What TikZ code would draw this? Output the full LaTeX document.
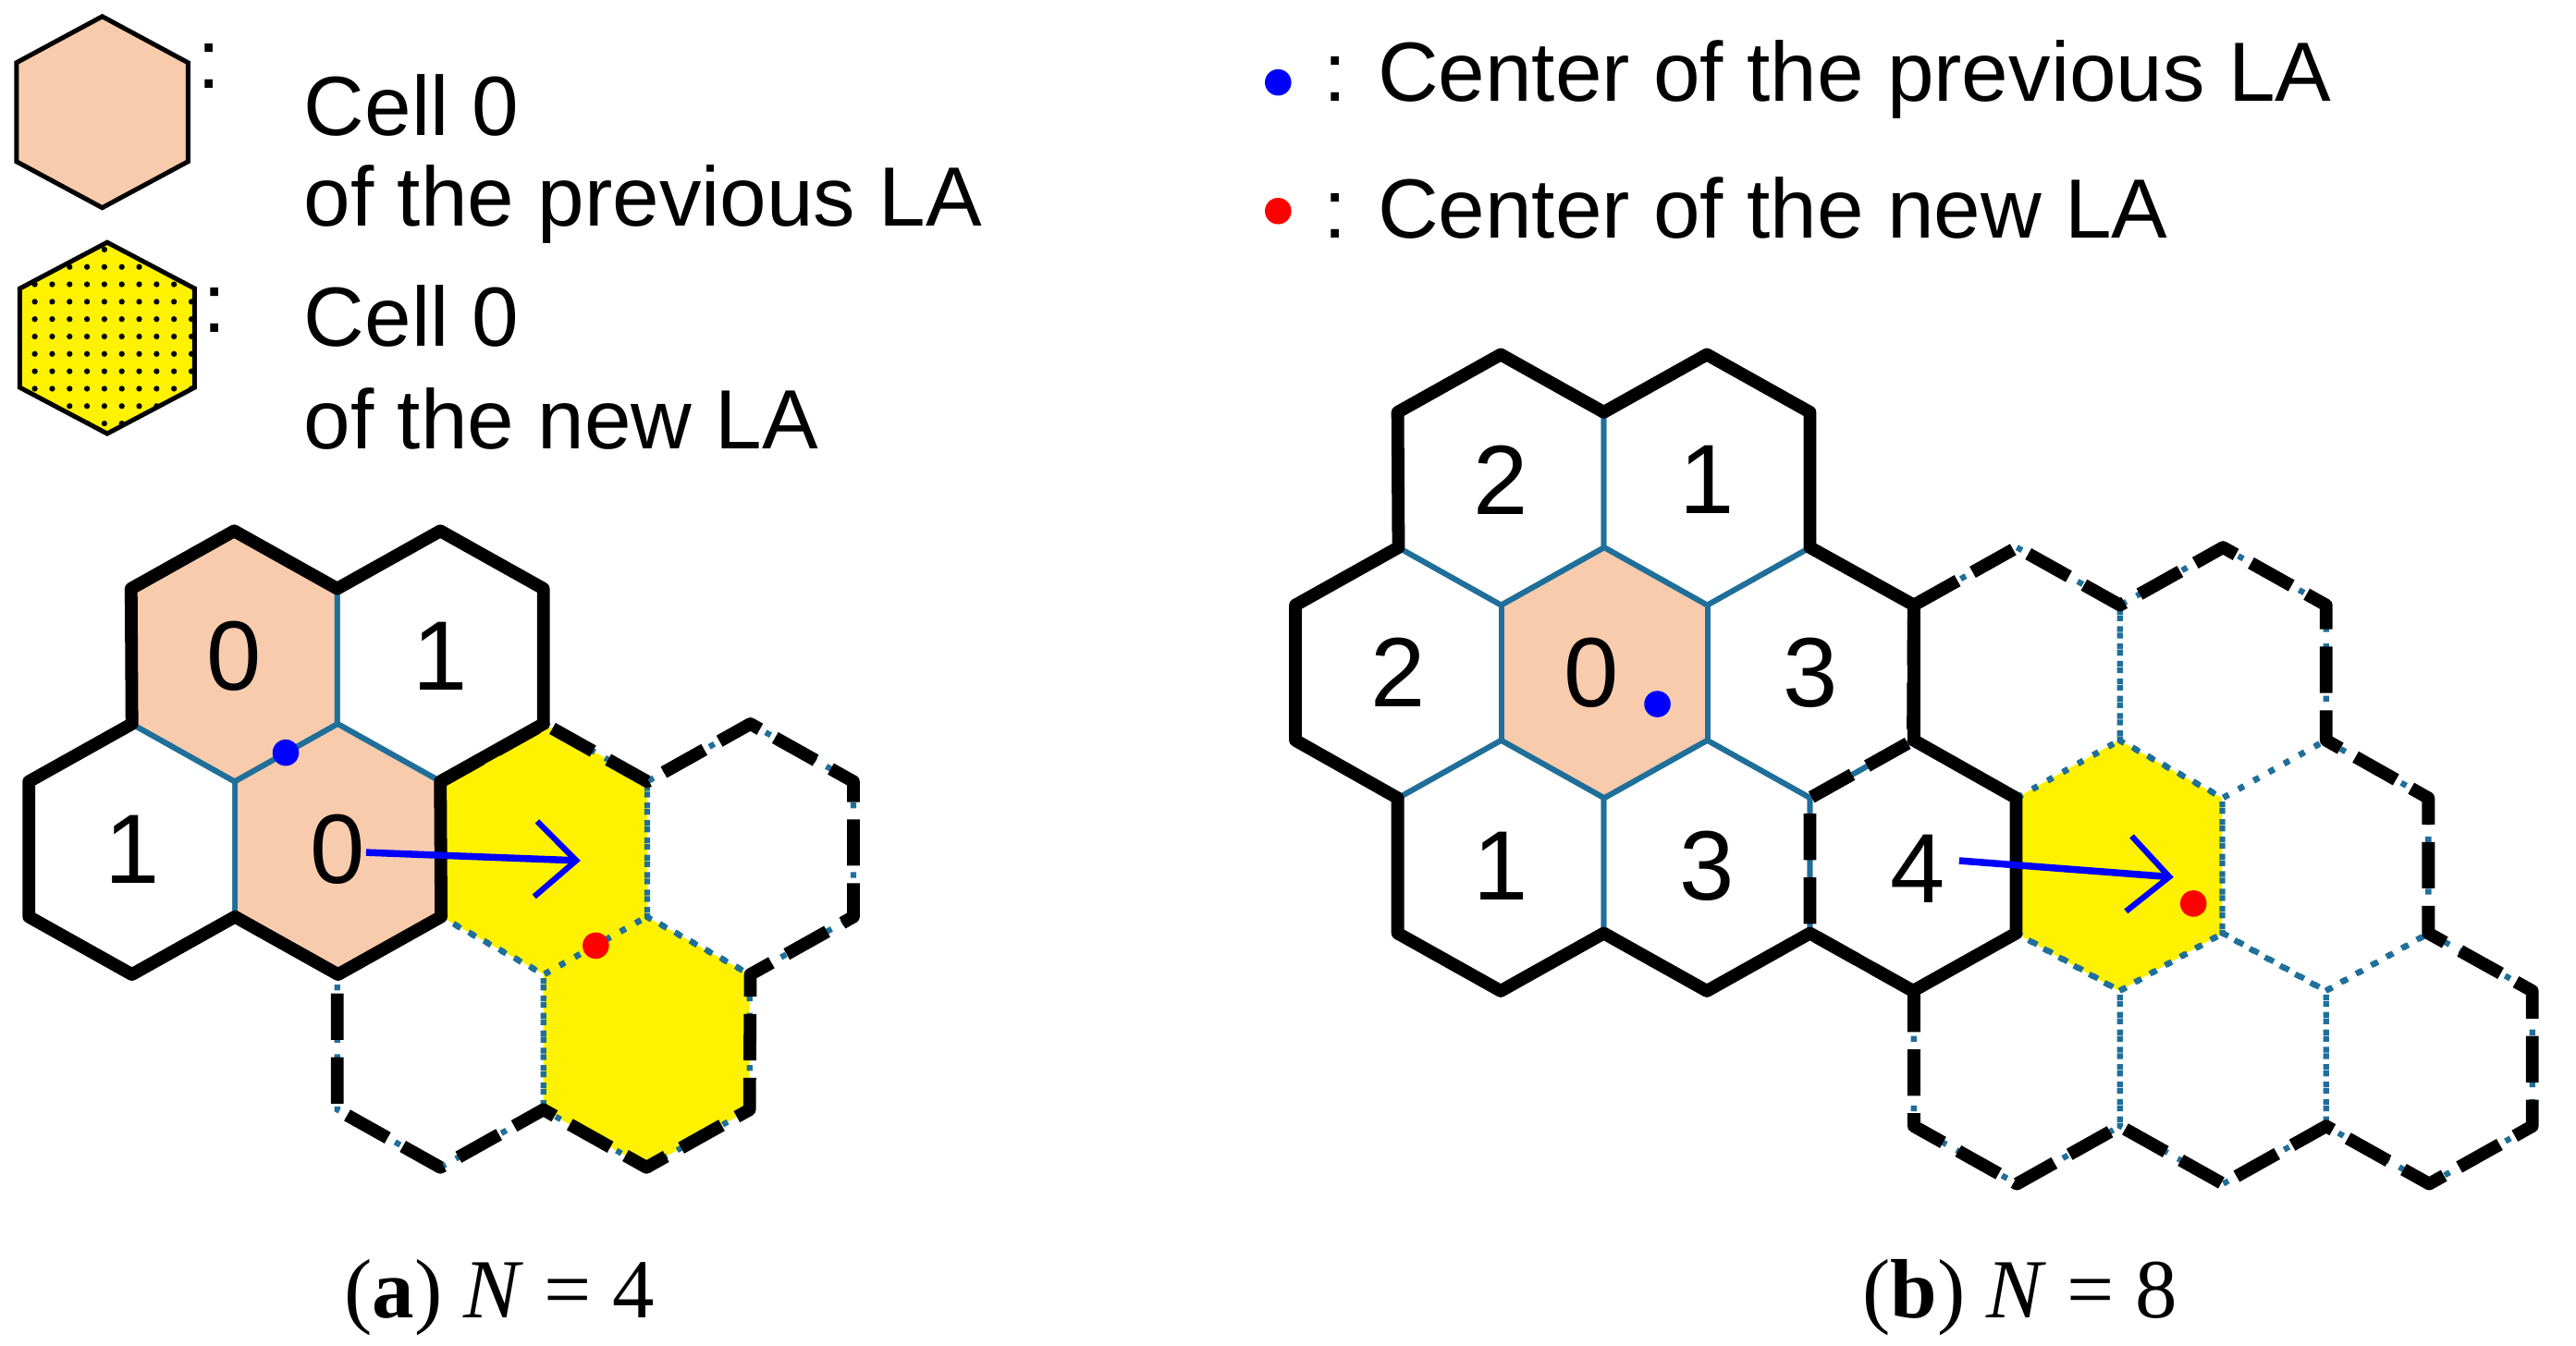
\documentclass[tikz,border=0pt]{standalone}
\usepackage{fontspec}
\setmainfont{Liberation Sans}
\newfontfamily\capfont{Liberation Serif}
\usetikzlibrary{arrows.meta,patterns,calc}
\definecolor{salmon}{HTML}{F8CBAD}
\definecolor{edgeblue}{HTML}{1F6F9A}
\tikzset{
  oldin/.style={draw=edgeblue,line width=0.9pt},
  newin/.style={draw=edgeblue,line width=1pt,dotted},
  newb/.style={draw=black,line width=2.2pt,dash pattern=on 8pt off 3pt,line join=round},
  oldb/.style={draw=black,line width=2.2pt,line join=round},
  num/.style={font=\fontsize{17}{20}\selectfont},
  leg/.style={font=\fontsize{14.5}{17}\selectfont,anchor=west},
  mv/.style={-{Straight Barb[length=7pt,width=13pt,line width=1pt]},draw=blue,line width=1.2pt},
}
\newcommand\hexc[3]{\path[shift={(#2,-#3)}] coordinate (#1-1) at (0,76) coordinate (#1-2) at (62.5,41) coordinate (#1-3) at (62.5,-41) coordinate (#1-4) at (0,-76) coordinate (#1-5) at (-62.5,-41) coordinate (#1-6) at (-62.5,41) coordinate (#1) at (0,0);}
\newcommand\hexd[2]{\path[#1] (#2-1)--(#2-2)--(#2-3)--(#2-4)--(#2-5)--(#2-6)--cycle;}
\begin{document}
\begin{tikzpicture}[x=0.01cm,y=0.01cm]
\useasboundingbox (0,0) rectangle (1562,-816);
% legend
\path[shift={(62,-68)}] coordinate (L1) at (0,58) coordinate (L2) at (52,30) coordinate (L3) at (52,-30) coordinate (L4) at (0,-58) coordinate (L5) at (-52,-30) coordinate (L6) at (-52,30);
\fill[salmon,draw=black,line width=0.8pt] (L1)--(L2)--(L3)--(L4)--(L5)--(L6)--cycle;
\path[shift={(65,-205)}] coordinate (M1) at (0,58) coordinate (M2) at (53,30) coordinate (M3) at (53,-30) coordinate (M4) at (0,-58) coordinate (M5) at (-53,-30) coordinate (M6) at (-53,30);
\fill[yellow] (M1)--(M2)--(M3)--(M4)--(M5)--(M6)--cycle;
\path[pattern=dots,draw=black,line width=0.8pt] (M1)--(M2)--(M3)--(M4)--(M5)--(M6)--cycle;
\node (c1) at (127,-40) {\fontsize{14.5}{17}\selectfont :};
\node (c2) at (130,-188) {\fontsize{14.5}{17}\selectfont :};
\node[leg] (t1) at (172,-64) {Cell 0};
\node[leg] (t2) at (172,-124) {of the previous LA};
\node[leg] (t3) at (172,-192) {Cell 0};
\node[leg] (t4) at (172,-254) {of the new LA};
\fill[blue] (775,-50) circle (8) coordinate (ld1);
\fill[red] (775,-128) circle (8) coordinate (ld2);
\node[leg] (t5) at (790,-48) {: Center of the previous LA};
\node[leg] (t6) at (790,-126) {: Center of the new LA};
% ---------------- (a)
\hexc{a1}{142}{398}\hexc{a2}{267}{398}\hexc{a3}{80}{515}\hexc{a4}{205}{515}
\hexc{n1}{330}{515}\hexc{n2}{455}{515}\hexc{n3}{267}{632}\hexc{n4}{392}{632}
\hexd{fill=salmon}{a1}\hexd{fill=salmon}{a4}\hexd{fill=yellow}{n1}\hexd{fill=yellow}{n4}
\foreach \c in {a1,a2,a3,a4}{\hexd{oldin}{\c}}
\foreach \c in {n1,n2,n3,n4}{\hexd{newin}{\c}}
\draw[newb] (n1-6)--(n1-1)--(n1-2)--(n2-1)--(n2-2)--(n2-3)--(n2-4)--(n4-3)--(n4-4)--(n4-5)--(n3-4)--(n3-5)--(n3-6);
\draw[oldb] (a1-6)--(a1-1)--(a1-2)--(a2-1)--(a2-2)--(a2-3)--(a2-4)--(a4-3)--(a4-4)--(a4-5)--(a3-4)--(a3-5)--(a3-6)--(a3-1)--cycle;
\node[num] at (a1) {0};\node[num] at (a2) {1};\node[num] at (a3) {1};\node[num] at (a4) {0};
\fill[blue] ($(a1-3)!0.5!(a1-4)$) circle (8);
\fill[red] ($(n1-3)!0.5!(n1-4)$) circle (8);
\coordinate (as) at (222,-517); \coordinate (ae) at (352,-522);
\draw[mv] (as)--(ae);
% ---------------- (b)
\hexc{b1}{910}{291}\hexc{b2}{1035}{291}
\hexc{b3}{848}{408}\hexc{b4}{973}{408}\hexc{b5}{1098}{408}\hexc{d1}{1223}{408}\hexc{d2}{1348}{408}
\hexc{b6}{910}{525}\hexc{b7}{1035}{525}\hexc{c4}{1160}{525}\hexc{y1}{1285}{525}\hexc{d3}{1410}{525}
\hexc{e1}{1223}{642}\hexc{e2}{1348}{642}\hexc{e3}{1473}{642}
\hexd{fill=salmon}{b4}\hexd{fill=yellow}{y1}
\foreach \c in {b1,b2,b3,b4,b5,b6,b7,c4}{\hexd{oldin}{\c}}
\foreach \c in {d1,d2,y1,d3,e1,e2,e3}{\hexd{newin}{\c}}
\draw[newb] (c4-4)--(c4-5)--(c4-6)--(c4-1)--(d1-6)--(d1-1)--(d1-2)--(d2-1)--(d2-2)--(d2-3)--(d3-2)--(d3-3)--(e3-2)--(e3-3)--(e3-4)--(e3-5)--(e2-4)--(e2-5)--(e1-4)--(e1-5)--(e1-6);
\draw[oldb] (b1-6)--(b1-1)--(b1-2)--(b2-1)--(b2-2)--(b2-3)--(b5-2)--(b5-3)--(c4-2)--(c4-3)--(c4-4)--(c4-5)--(b7-4)--(b7-5)--(b6-4)--(b6-5)--(b6-6)--(b3-5)--(b3-6)--(b3-1)--cycle;
\node[num] at (b1) {2};\node[num] at (b2) {1};\node[num] at (b3) {2};\node[num] at (965,-408) {0};
\node[num] at (b5) {3};\node[num] at (b6) {1};\node[num] at (b7) {3};\node[num] at (1163,-527) {4};
\fill[blue] (1005,-427) circle (8);
\fill[red] (1330,-548) circle (8);
\coordinate (bs) at (1188,-522); \coordinate (be) at (1318,-532);
\draw[mv] (bs)--(be);
% captions
\node[font=\capfont\fontsize{14.5}{17}\selectfont] (capa) at (303,-787) {(\textbf{a}) \textit{N} = 4};
\node[font=\capfont\fontsize{14.5}{17}\selectfont] (capb) at (1225,-787) {(\textbf{b}) \textit{N} = 8};
\end{tikzpicture}
\end{document}
